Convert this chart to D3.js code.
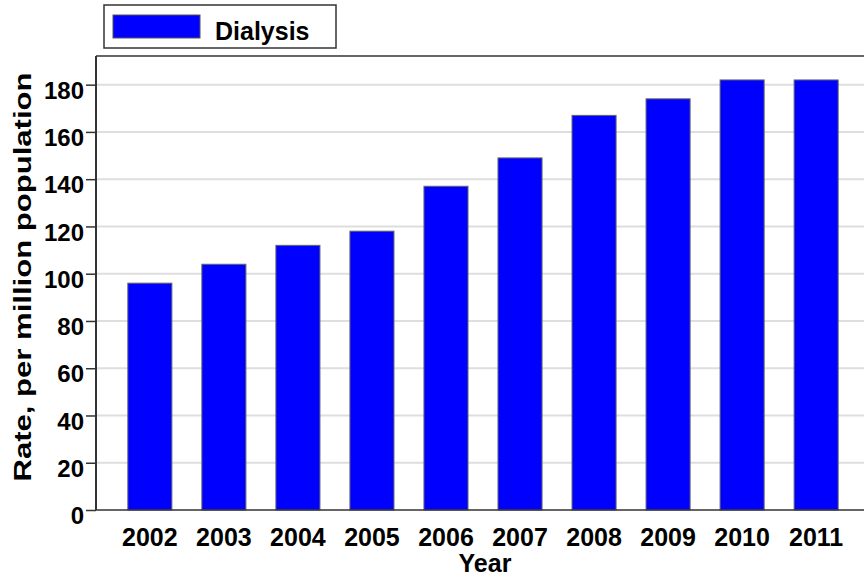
<!DOCTYPE html>
<html>
<head>
<meta charset="utf-8">
<script src="https://cdn.jsdelivr.net/npm/d3@7"></script>
<style>
  body { margin: 0; background: #fff; }
  text { font-family: "Liberation Sans", Arial, sans-serif; font-weight: bold; fill: #000; }
</style>
</head>
<body>
<svg id="chart" width="864" height="578"></svg>
<script>
// datos
const years = ["2002", "2003", "2004", "2005", "2006", "2007", "2008", "2009", "2010", "2011"];
const dialysis = [96, 104, 112, 118, 137, 149, 167, 174, 182, 182];
const yTicks = [0, 20, 40, 60, 80, 100, 120, 140, 160, 180];
const seriesName = "Dialysis";

const svg = d3.select("#chart");

// area del grafico
const plotLeft = 96, plotTop = 56, plotBottom = 510, plotRight = 870;

const x = d3.scaleBand()
    .domain(years)
    .range([plotLeft, plotRight])
    .paddingInner(0.405)
    .paddingOuter(0.43);

const y = d3.scaleLinear()
    .domain([0, 180])
    .range([plotBottom, plotBottom - 180 * 2.363]);

// lineas de la cuadricula
svg.append("g")
    .selectAll("line")
    .data(yTicks.filter(d => d > 0))
    .join("line")
    .attr("x1", plotLeft).attr("x2", 864)
    .attr("y1", d => y(d)).attr("y2", d => y(d))
    .attr("stroke", "#dedede")
    .attr("stroke-width", 2);

// barras
svg.append("g")
    .selectAll("rect")
    .data(dialysis)
    .join("rect")
    .attr("x", (d, i) => x(years[i]))
    .attr("y", d => y(d))
    .attr("width", x.bandwidth())
    .attr("height", d => plotBottom - y(d))
    .attr("fill", "#0000ff")
    .attr("stroke", "#666")
    .attr("stroke-width", 1);

// marco: linea superior y base
svg.append("line")
    .attr("x1", plotLeft).attr("x2", 864)
    .attr("y1", plotTop).attr("y2", plotTop)
    .attr("stroke", "#333").attr("stroke-width", 1.5);
svg.append("line")
    .attr("x1", plotLeft).attr("x2", 864)
    .attr("y1", plotBottom).attr("y2", plotBottom)
    .attr("stroke", "#333").attr("stroke-width", 1.5);

// eje Y
const yAxis = svg.append("g")
    .attr("transform", `translate(${plotLeft},0)`)
    .call(d3.axisLeft(y).tickValues(yTicks).tickSize(10).tickPadding(2));
yAxis.select(".domain").attr("stroke", "#333").attr("stroke-width", 2)
    .attr("d", `M0,${plotTop}V${plotBottom}`);
yAxis.selectAll(".tick line").attr("stroke", "#333").attr("stroke-width", 1.5);
yAxis.selectAll(".tick text")
    .attr("font-size", 24)
    .attr("dy", "0.57em")
    .attr("fill", "#000");

// eje X
const xAxis = svg.append("g")
    .attr("transform", `translate(0,${plotBottom})`)
    .call(d3.axisBottom(x).tickSize(0).tickPadding(0));
xAxis.select(".domain").remove();
xAxis.selectAll(".tick text")
    .attr("font-size", 25)
    .attr("y", 36)
    .attr("dy", 0)
    .attr("fill", "#000");

// titulos de los ejes
svg.append("text")
    .attr("x", 485)
    .attr("y", 572)
    .attr("text-anchor", "middle")
    .attr("font-size", 25)
    .text("Year");

svg.append("text")
    .attr("transform", "translate(31,277) rotate(-90)")
    .attr("text-anchor", "middle")
    .attr("font-size", 24)
    .attr("textLength", 409)
    .attr("lengthAdjust", "spacingAndGlyphs")
    .text("Rate, per million population");

// leyenda
const legend = svg.append("g");
legend.append("rect")
    .attr("x", 104).attr("y", 5)
    .attr("width", 232).attr("height", 43)
    .attr("fill", "#fff")
    .attr("stroke", "#333").attr("stroke-width", 1.5);
legend.append("rect")
    .attr("x", 113).attr("y", 15)
    .attr("width", 87).attr("height", 23)
    .attr("fill", "#0000ff")
    .attr("stroke", "#555").attr("stroke-width", 1);
legend.append("text")
    .attr("x", 215).attr("y", 39.5)
    .attr("font-size", 25)
    .text(seriesName);
</script>
</body>
</html>
